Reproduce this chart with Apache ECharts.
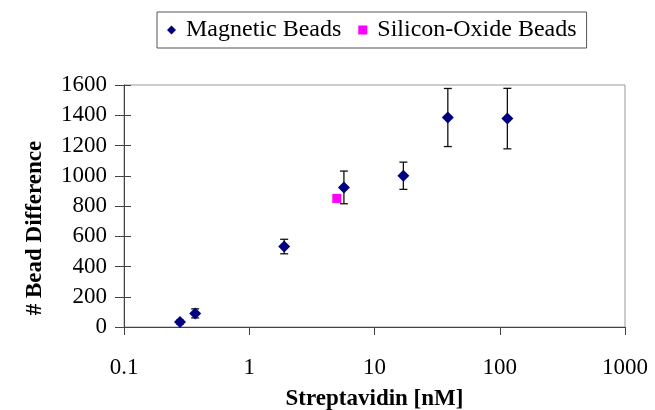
<!DOCTYPE html>
<html lang="en">
<head>
    <meta charset="utf-8" />
    <title>Bead Difference</title>
    <script type="text/javascript" src="https://cdn.jsdelivr.net/npm/echarts@6/dist/echarts.min.js"></script>
    <style type="text/css">
        body { margin: 0; background: #fff; }
    </style>
</head>
<body>

    <div id="main" style="width:655px;height:410px;"></div>

    <script type="text/javascript">

        // values
        var magX = [0.28, 0.37, 1.9, 5.7, 17, 38.5, 115];
        var magY = [33, 90, 532, 923, 1000, 1385, 1378];
        var magErr = [12, 30, 48, 108, 90, 192, 200];

        var oxideX = [5];
        var oxideY = [850];

        var xTickLabels = ['0.1', '1', '10', '100', '1000'];
        var yTicks = [0, 200, 400, 600, 800, 1000, 1200, 1400, 1600];

        var magData = [];
        var errData = [];
        for (var i = 0; i < magX.length; i++) {
            magData.push([magX[i], magY[i]]);
            errData.push([magX[i], magY[i], magErr[i]]);
        }
        var oxideData = [];
        for (var j = 0; j < oxideX.length; j++) {
            oxideData.push([oxideX[j], oxideY[j]]);
        }

        var serif = '"Liberation Serif", "Times New Roman", serif';

        function renderErr(params, api) {
            var x = api.value(0), y = api.value(1), e = api.value(2);
            var top = api.coord([x, y + e]);
            var bot = api.coord([x, y - e]);
            var w = 4;
            var st = { stroke: '#111', lineWidth: 1.3 };
            return {
                type: 'group',
                children: [
                    { type: 'line', shape: { x1: top[0], y1: top[1], x2: bot[0], y2: bot[1] }, style: st },
                    { type: 'line', shape: { x1: top[0] - w, y1: top[1], x2: top[0] + w, y2: top[1] }, style: st },
                    { type: 'line', shape: { x1: bot[0] - w, y1: bot[1], x2: bot[0] + w, y2: bot[1] }, style: st }
                ]
            };
        }

        var myChart = echarts.init(document.getElementById('main'));

        var option = {
            animation: false,
            backgroundColor: '#fff',
            legend: {
                left: 157,
                top: 12,
                padding: [6, 10, 6, 10],
                itemGap: 17,
                itemWidth: 9,
                itemHeight: 9,
                borderColor: '#555',
                borderWidth: 1,
                textStyle: { fontFamily: serif, fontSize: 24, color: '#000', padding: [0, 0, 0, 5] },
                data: [
                    { name: 'Magnetic Beads', icon: 'diamond' },
                    { name: 'Silicon-Oxide Beads', icon: 'rect' }
                ]
            },
            grid: {
                left: 124,
                right: 30,
                top: 85,
                bottom: 83,
                outerBoundsMode: 'none',
                show: true,
                borderColor: '#999',
                borderWidth: 1
            },
            xAxis: {
                type: 'log',
                logBase: 10,
                min: 0.1,
                max: 1000,
                name: 'Streptavidin [nM]',
                nameLocation: 'middle',
                nameGap: 61,
                nameTextStyle: { fontFamily: serif, fontSize: 23, fontWeight: 'bold', color: '#000' },
                axisLine: { lineStyle: { color: '#444', width: 1 } },
                axisTick: { length: 8, lineStyle: { color: '#444' } },
                splitLine: { show: false },
                minorTick: { show: false },
                axisLabel: {
                    margin: 29,
                    fontFamily: serif,
                    fontSize: 23,
                    color: '#000',
                    formatter: function (v) {
                        return xTickLabels[Math.round(Math.log10(v)) + 1];
                    }
                }
            },
            yAxis: [{
                type: 'value',
                min: yTicks[0],
                max: yTicks[yTicks.length - 1],
                interval: 200,
                position: 'left',
                name: '# Bead Difference',
                nameLocation: 'middle',
                nameGap: 77,
                nameTextStyle: { fontFamily: serif, fontSize: 23, fontWeight: 'bold', color: '#000', padding: [0, 44, 0, 0] },
                axisLine: { show: true, lineStyle: { color: '#444', width: 1 } },
                axisTick: { show: true, length: 9, lineStyle: { color: '#444' } },
                splitLine: { show: false },
                axisLabel: {
                    margin: 17, fontFamily: serif, fontSize: 23, color: '#000',
                    formatter: function (v) { return String(v); }
                }
            }, {
                type: 'value',
                min: yTicks[0],
                max: yTicks[yTicks.length - 1],
                interval: 200,
                position: 'left',
                axisLine: { show: false },
                axisTick: { show: true, inside: true, length: 7, lineStyle: { color: '#444' } },
                splitLine: { show: false },
                axisLabel: { show: false }
            }],
            series: [{
                name: 'error',
                type: 'custom',
                renderItem: renderErr,
                encode: { x: 0, y: 1 },
                data: errData,
                z: 1,
                silent: true
            }, {
                name: 'Magnetic Beads',
                type: 'scatter',
                symbol: 'diamond',
                symbolSize: 12,
                itemStyle: { color: '#000080', opacity: 1 },
                data: magData,
                z: 3
            }, {
                name: 'Silicon-Oxide Beads',
                type: 'scatter',
                symbol: 'rect',
                symbolSize: 9,
                itemStyle: { color: '#ff00ff', opacity: 1 },
                data: oxideData,
                z: 3
            }]
        };
        myChart.setOption(option, true);
    </script>
</body>
</html>
